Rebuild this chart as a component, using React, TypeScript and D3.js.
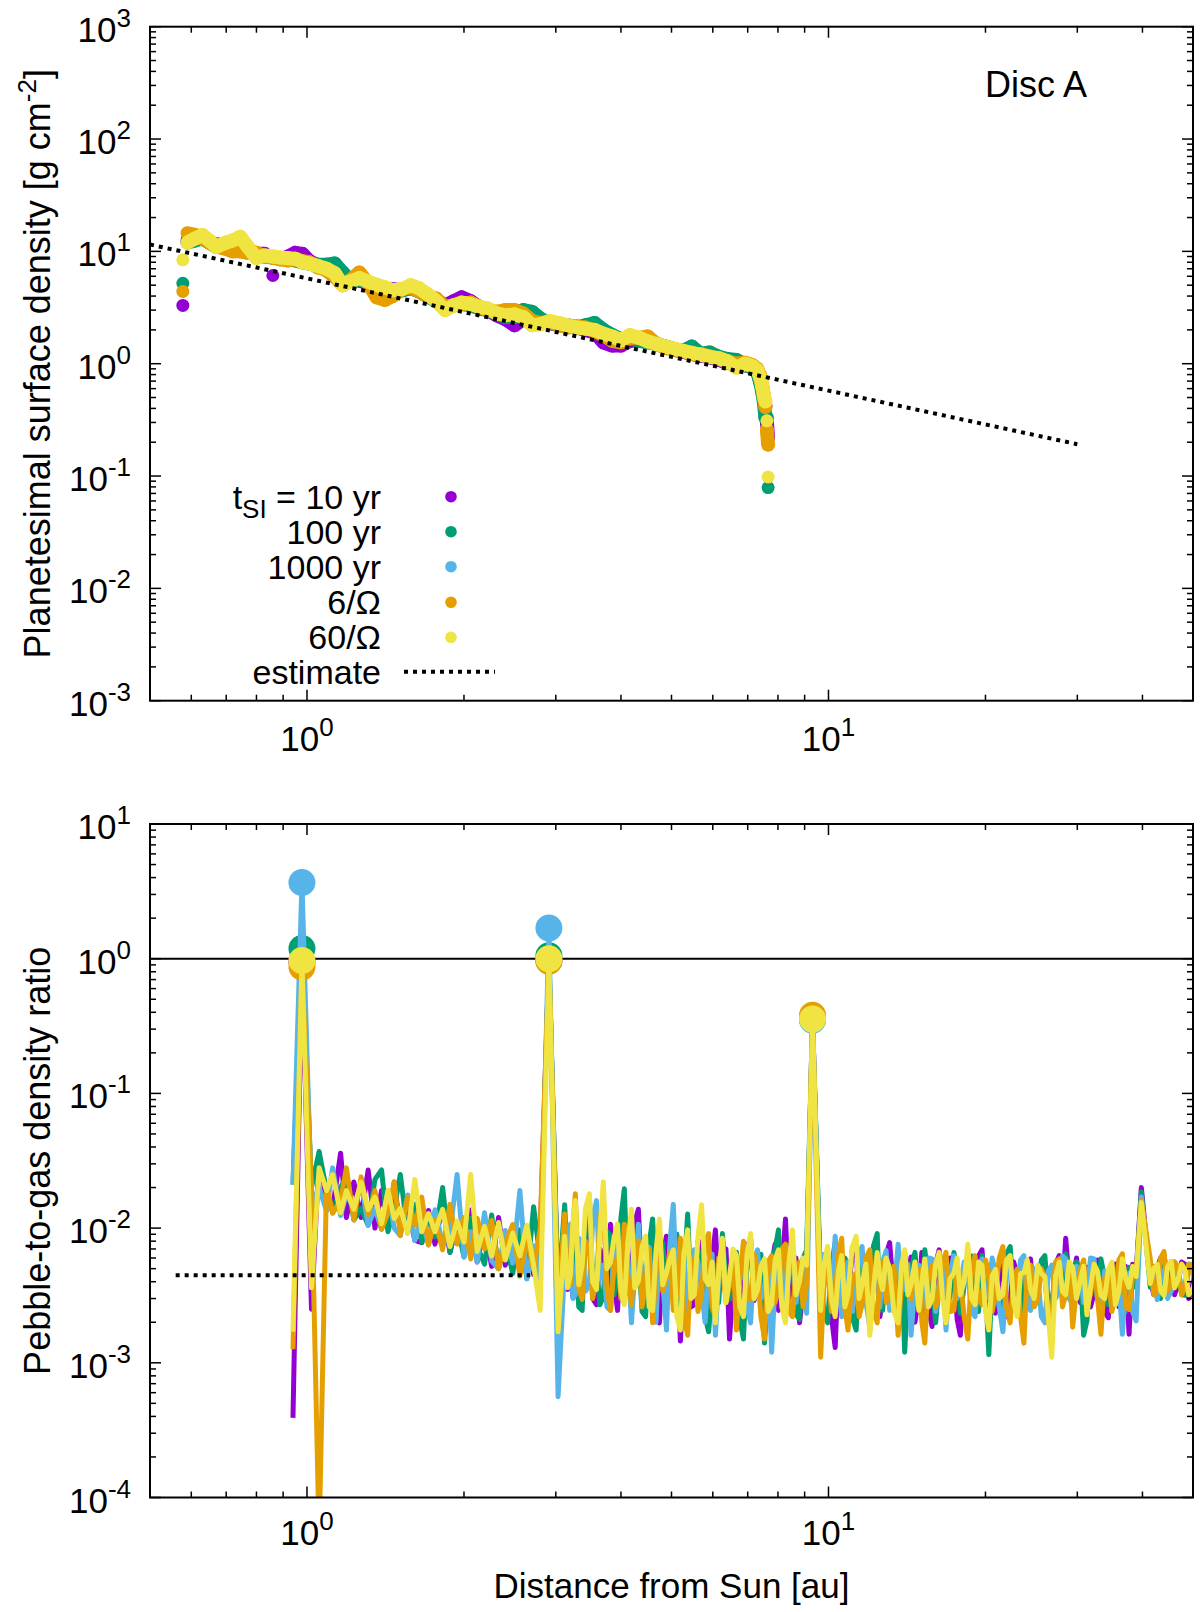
import React from "react";
import * as d3 from "d3";

// ---------- top panel: planetesimal surface density (Disc A) ----------
const sigmaRadius = [
  0.578, 0.59, 0.61, 0.63, 0.65, 0.67, 0.7, 0.72, 0.745, 0.77,
  0.8, 0.83, 0.86, 0.89, 0.92, 0.95, 0.98, 1.01, 1.05, 1.09,
  1.13, 1.17, 1.21, 1.26, 1.31, 1.36, 1.41, 1.46, 1.52, 1.58,
  1.64, 1.7, 1.77, 1.84, 1.91, 1.98, 2.06, 2.14, 2.22, 2.31,
  2.4, 2.5, 2.6, 2.7, 2.81, 2.92, 3.04, 3.16, 3.29, 3.42,
  3.56, 3.7, 3.85, 4.0, 4.16, 4.33, 4.5, 4.68, 4.87, 5.06,
  5.26, 5.47, 5.69, 5.92, 6.16, 6.4, 6.66, 6.92, 7.15, 7.3,
  7.4, 7.47, 7.52, 7.57, 7.62, 7.66,
];
const sigma10yr = [
  3.3, 12.5, 13.5, 13, 12, 11.5, 11.5, 12, 12.5, 10.5,
  9.5, 9.5, 6.1, 8.5, 9.0, 9.7, 9.5, 8.2, 7.5, 6.8,
  6.0, 5.2, 5.6, 5.5, 5.2, 4.9, 4.6, 4.6, 4.5, 4.8,
  4.5, 4.0, 3.7, 3.3, 3.6, 3.9, 3.6, 3.2, 3.0, 2.7,
  2.5, 2.2, 2.5, 2.4, 2.3, 2.3, 2.2, 2.2, 2.1, 2.0,
  1.9, 1.55, 1.45, 1.45, 1.6, 1.62, 1.6, 1.5, 1.4, 1.33,
  1.28, 1.22, 1.18, 1.14, 1.08, 1.02, 0.98, 0.97, 0.93, 0.85,
  0.7, 0.6, 0.5, 0.42, 0.3, 0.22,
];
const sigma100yr = [
  5.2, 12, 12.5, 13, 12, 11, 11.5, 12, 12.5, 10.5,
  9, 9, 8.8, 8.6, 8.5, 8.3, 8.0, 7.8, 7.6, 7.6,
  7.8, 6.5, 5.5, 5.6, 5.3, 5.0, 4.7, 4.5, 4.5, 4.7,
  4.4, 4.0, 3.6, 3.2, 3.3, 3.4, 3.3, 3.1, 3.0, 2.8,
  2.6, 2.6, 3.0, 2.9, 2.5, 2.3, 2.25, 2.2, 2.1, 2.2,
  2.3, 2.0, 1.8, 1.65, 1.7, 1.6, 1.55, 1.5, 1.42, 1.35,
  1.3, 1.42, 1.22, 1.26, 1.15, 1.1, 1.08, 0.98, 0.92, 0.85,
  0.68, 0.55, 0.45, 0.33, 0.33, 0.079,
];
const sigma6Omega = [
  4.4, 14.5, 14, 13, 12, 11, 10.5, 10, 10, 9.7,
  9.7, 9.0, 8.8, 8.5, 8.3, 8.5, 8.2, 8.0, 7.2, 6.8,
  6.0, 5.0, 5.5, 6.5, 5.2, 3.9, 3.7, 4.0, 4.6, 4.8,
  4.4, 4.0, 3.8, 3.2, 3.3, 3.4, 3.5, 3.2, 3.0, 2.9,
  3.0, 3.0, 2.8, 2.4, 2.3, 2.35, 2.2, 2.1, 2.15, 2.1,
  1.95, 1.8, 1.6, 1.55, 1.7, 1.7, 1.75, 1.5, 1.38, 1.34,
  1.3, 1.22, 1.22, 1.16, 1.1, 1.05, 1.0, 1.02, 0.97, 0.9,
  0.78, 0.62, 0.5, 0.41, 0.26, 0.19,
];
const sigma60Omega = [
  8.4, 12, 13, 14, 12.5, 11, 12, 12.5, 13.5, 11,
  8.7, 9.2, 9.0, 8.8, 8.7, 8.6, 8.0, 7.8, 7.4, 7.0,
  6.4, 5.0, 5.4, 5.8, 5.4, 5.0, 4.8, 4.5, 4.6, 5.0,
  4.7, 4.2, 3.6, 3.0, 3.3, 3.5, 3.4, 3.2, 3.1, 2.8,
  2.7, 2.75, 2.6, 2.2, 2.25, 2.4, 2.3, 2.2, 2.1, 2.05,
  2.0, 1.85, 1.75, 1.62, 1.8, 1.7, 1.58, 1.5, 1.42, 1.36,
  1.3, 1.25, 1.2, 1.15, 1.12, 1.05, 0.92, 1.0, 0.95, 0.88,
  0.75, 0.62, 0.52, 0.46, 0.31, 0.098,
];
const sigmaEstimateRadius = [0.5, 30];
const sigmaEstimate = [11.5, 0.192];

// ---------- bottom panel: pebble-to-gas density ratio (units of 1e-3) ----------
const ratioRadius = [
  0.94, 0.978, 1.02, 1.055, 1.09, 1.12, 1.16, 1.19, 1.23, 1.27,
  1.31, 1.35, 1.39, 1.43, 1.47, 1.51, 1.56, 1.61, 1.66, 1.71,
  1.76, 1.82, 1.88, 1.94, 2.0, 2.06, 2.12, 2.19, 2.26, 2.33,
  2.4, 2.48, 2.56, 2.64, 2.72, 2.8, 2.91,
  3.03,
  3.12, 3.16, 3.2, 3.235, 3.27, 3.32, 3.37, 3.42, 3.48, 3.53,
  3.59, 3.645, 3.7, 3.76, 3.82, 3.88, 3.94, 4.0, 4.06, 4.12,
  4.19, 4.25, 4.32, 4.39, 4.46, 4.53, 4.6, 4.67, 4.74, 4.81,
  4.89, 4.96, 5.04, 5.12, 5.2, 5.28, 5.37, 5.45, 5.53, 5.62,
  5.71, 5.8, 5.89, 5.98, 6.07, 6.16, 6.26, 6.36, 6.46, 6.56,
  6.66, 6.76, 6.87, 6.98, 7.09, 7.2, 7.31, 7.42, 7.54, 7.66,
  7.78, 7.9, 8.02, 8.14, 8.27, 8.4, 8.53, 8.66, 8.8, 8.94, 9.08,
  9.32,
  9.66, 9.81, 9.96, 10.13, 10.3, 10.45, 10.6, 10.75,
  10.9, 11.1, 11.3, 11.45, 11.6, 11.8, 12.0, 12.2, 12.4, 12.55,
  12.7, 12.9, 13.1, 13.35, 13.6, 13.8, 14.0, 14.2, 14.4, 14.65,
  14.9, 15.1, 15.3, 15.55, 15.8, 16.05, 16.3, 16.55, 16.8, 17.1,
  17.4, 17.65, 17.9, 18.2, 18.5, 18.8, 19.1, 19.4, 19.7, 20.0,
  20.3, 20.6, 20.9, 21.25, 21.6, 21.95, 22.3, 22.65, 23.0, 23.35,
  23.7, 24.05, 24.4, 24.8, 25.2, 25.6, 26.0, 26.4, 26.8, 27.25,
  27.7, 28.1, 28.5, 28.95, 29.4, 29.9, 30.4, 30.85, 31.3, 31.8,
  32.3, 32.8, 33.3, 33.85, 34.4, 34.95, 35.5, 36.05, 36.6, 37.15,
  37.7, 38.3, 38.9,
  39.8,
  41.4, 42.05, 42.7, 43.35, 44.0, 44.7, 45.4, 46.1, 46.8, 47.55, 48.3, 49.05, 49.8, 50.6, 51.4,
];
const ratio10yr = [
  0.39, 950, 2.5,
  34, 16, 14, 36, 12, 22, 12, 27, 10, 19, 9.9, 22, 9.7, 15, 8.1, 7.8, 13.5,
  7.6, 15, 6.6, 11, 6.7, 13.6, 5.6, 10.3, 5.2, 12, 5.3, 9.7, 5.3, 10, 4.5, 8.6,
  970,
  3.0,
  7.8, 3.5, 9.5, 3.1, 12.7, 4.5, 3.8, 8.5, 9.7, 3.0,
  2.7, 7.0, 6.1, 2.8, 10.7, 4.0, 2.45, 7.5, 6.9, 3.3,
  4.5, 11, 13.8, 3.6, 2.96, 6.8, 5.3, 2.4, 1.98, 6.0,
  8.7, 3.2, 3.8, 7.4, 1.45, 4.6, 6.1, 2.6, 2.7, 8.0,
  7.8, 3.0, 1.75, 5.6, 9.7, 3.4, 4.05, 7.0, 1.5, 3.6,
  6.6, 2.5, 3.2, 7.2, 8.4, 2.9, 3.8, 5.8, 1.6, 4.0,
  5.3, 7.6, 2.45, 4.8, 11.7, 3.0, 4.35, 6.0, 1.98, 3.4, 5.6,
  360,
  3.1, 6.0, 6.25, 2.2, 1.3, 5.4, 4.95, 2.4,
  2.7, 6.8, 7.3, 2.6, 3.5, 5.8, 1.75, 4.0, 5.3, 2.2,
  2.96, 6.4, 7.8, 3.2, 3.8, 5.2, 2.2, 4.4, 6.1, 2.0,
  3.2, 6.6, 4.95, 2.5, 1.86, 5.4, 6.9, 3.0, 3.65, 6.0,
  4.65, 2.1, 1.6, 4.8, 5.6, 2.9, 3.1, 6.2, 6.9, 2.6,
  3.9, 5.6, 2.33, 4.2, 5.3, 2.2, 2.85, 5.6, 4.5, 2.4,
  1.98, 5.2, 5.9, 2.8, 3.5, 5.6, 4.65, 2.2, 2.45, 5.4,
  6.25, 3.4, 8.4, 4.0, 4.13, 6.0, 2.8, 3.2, 5.13, 2.6,
  3.29, 5.8, 4.88, 2.4, 2.16, 5.0, 5.39, 2.6, 3.64, 5.2,
  1.63, 5.4, 4.62,
  20,
  4.13, 3.2, 5.13, 6.0, 3.4, 4.4, 5.65, 3.2, 3.88, 5.6, 5.39, 3.0, 3.64, 5.0, 4.88,
];
const ratio100yr = [
  21, 1190, 20,
  37, 19, 13, 20, 24, 11.5, 14, 10.5, 23, 27, 9.4, 14, 25, 9.2, 15, 7.8, 12,
  8.6, 20, 6.6, 10.7, 6.1, 11.8, 7.3, 5.4, 12.5, 5.0, 8.2, 4.6, 9.7, 4.2, 14.4, 5.9,
  1050,
  3.2,
  14.9, 5.0, 3.8, 8.0, 6.9, 2.6, 2.45, 9.0, 17, 4.2,
  5.3, 2.7, 3.1, 9.5, 8.7, 3.2, 4.5, 12, 19.6, 4.0,
  3.5, 8.2, 6.6, 2.4, 2.2, 7.6, 11.7, 3.6, 4.95, 7.8,
  2.7, 3.4, 6.9, 9.0, 2.33, 4.5, 12.7, 3.2, 4.05, 6.8,
  6.25, 2.2, 1.7, 5.0, 5.3, 2.8, 9.1, 4.0, 2.96, 6.2,
  6.6, 2.1, 1.5, 5.8, 7.6, 3.0, 4.05, 6.4, 1.4, 3.8,
  5.3, 7.0, 9.7, 2.8, 3.2, 6.4, 5.6, 2.3, 2.1, 6.0, 6.9,
  355,
  3.8, 2.4, 1.98, 5.2, 7.8, 3.0, 3.5, 6.0,
  5.3, 2.2, 1.75, 5.0, 6.25, 3.2, 4.05, 7.4, 9.1, 2.6,
  2.45, 5.6, 5.3, 2.4, 3.2, 5.8, 1.2, 3.6, 4.95, 6.6,
  2.96, 2.2, 6.9, 4.2, 3.8, 1.98, 4.0, 5.3, 2.6, 3.1,
  6.6, 4.4, 2.33, 3.8, 4.65, 6.2, 3.2, 2.4, 6.25, 3.6,
  1.15, 4.2, 4.35, 2.6, 2.96, 6.4, 7.3, 3.2, 3.8, 5.2,
  2.2, 4.0, 5.3, 2.8, 3.2, 5.8, 6.25, 2.8, 2.6, 4.8,
  4.5, 3.0, 6.45, 4.4, 2.94, 5.6, 4.88, 1.6, 2.05, 5.0,
  4.37, 3.0, 5.91, 4.2, 2.7, 3.4, 4.62, 5.6, 3.29, 2.4,
  5.13, 3.6, 4.4,
  18.5,
  3.64, 5.2, 4.62, 3.0, 6.18, 4.4, 3.4, 5.0, 4.88, 3.2, 3.17, 5.4, 5.13, 3.6, 4.37,
];
const ratio1000yr = [
  21, 3680, 15,
  20, 13.4, 28, 12.4, 18, 13.8, 22, 10.5, 14, 9.8, 19, 10, 8.8, 17.6, 8.1, 11.7, 7.5,
  13.7, 7.6, 9.2, 25, 6.1, 9.4, 5.6, 13, 5.7, 5.0, 9.6, 5.5, 19, 4.2, 7.4, 3.9,
  1690,
  0.56,
  5.3, 9.0, 10.7, 3.0, 3.2, 8.4, 7.8, 3.4, 3.8, 11,
  16, 4.2, 5.3, 2.6, 2.45, 7.0, 8.7, 3.2, 4.05, 6.4,
  1.98, 4.6, 10.7, 3.6, 4.65, 7.2, 3.1, 2.0, 7.3, 4.0,
  1.75, 7.4, 15, 3.2, 4.65, 6.0, 2.45, 3.4, 6.9, 5.6,
  3.5, 2.0, 5.3, 6.4, 1.6, 4.4, 8.0, 2.9, 4.05, 6.6,
  2.45, 4.2, 6.25, 2.6, 1.98, 5.8, 6.9, 3.0, 3.5, 5.6,
  1.2, 4.0, 5.3, 6.4, 2.7, 4.6, 7.6, 2.8, 4.35, 5.4, 2.33,
  350,
  2.7, 6.4, 4.95, 2.6, 8.7, 4.0, 2.2, 4.6,
  5.6, 2.4, 3.65, 6.6, 7.3, 2.8, 1.86, 5.0, 4.35, 2.6,
  5.6, 6.8, 2.45, 3.2, 7.6, 4.0, 3.5, 5.4, 1.6, 3.8,
  5.3, 2.6, 3.2, 6.0, 5.9, 2.4, 3.8, 5.0, 1.75, 4.6,
  6.25, 3.0, 3.5, 5.6, 4.65, 2.4, 2.2, 5.0, 5.9, 3.0,
  3.2, 6.0, 4.65, 2.6, 1.7, 4.4, 5.6, 3.2, 3.5, 5.8,
  6.25, 2.8, 2.45, 5.0, 4.35, 2.2, 1.98, 4.8, 5.3, 3.0,
  3.5, 6.2, 5.9, 3.0, 2.7, 5.2, 4.62, 2.8, 3.17, 6.0,
  5.91, 3.0, 2.27, 4.8, 4.37, 2.6, 3.4, 4.0, 1.63, 3.8,
  4.62, 2.4, 2.05,
  17,
  4.13, 5.0, 2.94, 4.2, 4.88, 3.0, 3.4, 5.6, 5.13, 3.4, 3.88, 5.4, 5.39, 3.6, 4.13,
];
const ratio6Omega = [
  1.26, 870, 20,
  0.05, 21, 12.9, 16, 28, 11.5, 24, 12.6, 19, 9.8, 13, 22, 8.8, 17, 10.5, 17, 7.5,
  11.5, 6.9, 15, 7.6, 12, 5.9, 11.8, 7.0, 11.4, 5.0, 7.7, 10.6, 4.4, 8.4, 4.9, 10,
  960,
  2.5,
  12.7, 4.4, 3.8, 10, 18, 3.6, 2.96, 8.0, 6.9, 3.0,
  4.05, 12, 14.9, 3.6, 2.45, 5.2, 6.1, 3.0, 10.7, 4.4,
  2.7, 6.4, 8.0, 2.6, 3.8, 7.0, 1.98, 4.6, 9.5, 3.4,
  4.35, 6.6, 2.45, 3.2, 8.4, 2.2, 1.6, 5.4, 5.9, 2.4,
  3.2, 7.8, 9.1, 2.6, 2.2, 6.0, 5.3, 2.8, 3.8, 6.2,
  1.75, 4.2, 8.0, 3.0, 2.96, 6.4, 4.95, 2.2, 1.5, 5.6,
  6.25, 2.8, 3.5, 7.0, 7.6, 2.4, 2.2, 5.0, 5.6, 2.6, 3.8,
  380,
  1.1, 4.0, 5.3, 2.4, 3.2, 6.4, 8.4, 2.6,
  1.75, 4.2, 4.65, 2.2, 2.7, 6.0, 6.9, 2.4, 1.98, 4.8,
  5.6, 2.8, 3.5, 5.2, 1.6, 3.8, 6.6, 4.2, 2.96, 5.0,
  4.95, 2.0, 1.4, 4.4, 5.3, 2.6, 3.2, 5.6, 6.6, 2.4,
  2.45, 5.0, 4.35, 2.2, 1.5, 4.6, 6.25, 3.0, 2.7, 5.8,
  4.65, 2.4, 3.2, 6.0, 7.3, 2.6, 1.98, 4.2, 4.95, 2.2,
  1.4, 4.8, 5.3, 2.6, 2.96, 5.0, 4.35, 2.0, 2.2, 5.6,
  5.9, 2.6, 3.2, 5.2, 1.84, 3.6, 4.88, 5.8, 2.7, 3.2,
  5.39, 3.0, 1.63, 4.2, 4.62, 2.4, 3.17, 5.8, 6.45, 2.6,
  2.49, 4.4, 4.62,
  16,
  5.91, 3.2, 3.4, 6.0, 6.7, 3.4, 3.88, 5.6, 5.13, 3.2, 3.64, 5.4, 4.88, 3.6, 4.37,
];
const ratio60Omega = [
  1.7, 970, 3.6,
  28, 19, 25, 13, 19, 13.8, 22, 13.7, 17, 10.8, 19, 11.8, 14, 9.2, 23, 9.4, 12.8,
  9.4, 13.8, 7.3, 11.3, 7.9, 25, 6.7, 10.3, 6.2, 11, 5.8, 9.2, 6.2, 10.5, 5.3, 2.45,
  1000,
  1.7,
  8.7, 3.6, 4.5, 11, 16, 3.8, 5.3, 14, 18, 4.0,
  3.5, 9.0, 22, 5.0, 5.6, 8.5, 10.7, 3.4, 2.7, 7.6,
  13.8, 3.6, 4.05, 7.2, 8.7, 2.6, 2.45, 6.8, 11.7, 3.8,
  4.65, 5.8, 6.9, 2.2, 1.75, 6.4, 9.7, 3.0, 3.2, 8.6,
  14.9, 4.2, 3.8, 5.6, 1.98, 4.8, 8.4, 2.8, 4.35, 7.0,
  6.25, 2.6, 2.2, 6.4, 9.1, 3.0, 3.5, 5.2, 5.9, 2.4,
  2.7, 5.8, 6.9, 2.6, 1.98, 5.6, 9.7, 3.2, 4.05, 6.0, 5.3,
  356,
  2.45, 5.4, 7.3, 3.0, 2.2, 4.8, 6.25, 2.6,
  3.2, 7.2, 8.7, 3.0, 3.8, 5.4, 1.6, 3.6, 6.6, 4.2,
  3.5, 6.0, 4.95, 2.4, 1.98, 5.2, 6.9, 3.2, 3.8, 5.6,
  2.45, 4.0, 5.9, 2.6, 2.96, 5.4, 6.6, 3.0, 1.98, 4.2,
  4.65, 6.0, 3.2, 4.0, 7.6, 3.0, 2.7, 5.6, 5.3, 2.4,
  1.75, 4.4, 4.95, 3.0, 3.2, 5.8, 6.25, 2.8, 2.2, 4.6,
  4.65, 5.8, 3.5, 3.0, 5.3, 4.6, 4.35, 2.2, 1.1, 4.4,
  5.6, 3.4, 3.2, 5.6, 5.13, 3.0, 4.13, 5.2, 2.27, 3.6,
  5.39, 4.8, 3.17, 3.0, 4.88, 5.6, 2.7, 3.4, 5.91, 4.2,
  3.64, 5.2, 4.37,
  15.5,
  3.88, 5.0, 5.39, 3.4, 3.17, 5.2, 5.65, 3.6, 4.13, 5.4, 4.88, 3.2, 3.4, 4.2, 2.0,
];
const ratioEstimateRadius = [0.56, 2.68];
const ratioEstimate = [4.46, 4.46];

const seriesColors = ["#9400d3", "#009e73", "#56b4e9", "#e69f00", "#f0e442"];
const legendLabels = ["= 10 yr", "100 yr", "1000 yr", "6/Ω", "60/Ω"];
const topDecades = [-3, -2, -1, 0, 1, 2, 3];
const bottomDecades = [-4, -3, -2, -1, 0, 1];
const xDecades = [0, 1];

// layout
const W = 1200;
const H = 1612;
const L = 150;
const R = 1193;
const top1 = 26.7;
const bot1 = 700.7;
const top2 = 824;
const bot2 = 1497.5;
const FONT = "'Liberation Sans', Arial, Helvetica, sans-serif";
const TICK_FS = 35;
const EXP_FS = 26;

const x = d3.scaleLog().domain([0.5, 50]).range([L, R]);
const y1 = d3.scaleLog().domain([1e-3, 1e3]).range([bot1, top1]);
const y2 = d3.scaleLog().domain([1e-4, 10]).range([bot2, top2]);

const isDecade = (v: number) => Math.abs(Math.log10(v) - Math.round(Math.log10(v))) < 1e-6;

const Pow10 = ({ px, py, exp, anchor }: { px: number; py: number; exp: number; anchor: string }) => (
  <text x={px} y={py} textAnchor={anchor as any} fontSize={TICK_FS}>
    10
    <tspan dy={-15} fontSize={EXP_FS}>{exp}</tspan>
  </text>
);

const Frame = ({ y, top, bottom, decades, xLabelY }: any) => {
  const xt = x.ticks();
  const yt = y.ticks();
  return (
    <g>
      {xt.map((t: number, i: number) => {
        const len = isDecade(t) ? 11 : 6;
        const px = x(t);
        return (
          <g key={"x" + i} stroke="#000" strokeWidth={1.5}>
            <line x1={px} x2={px} y1={bottom} y2={bottom - len} />
            <line x1={px} x2={px} y1={top} y2={top + len} />
          </g>
        );
      })}
      {yt.map((t: number, i: number) => {
        const len = isDecade(t) ? 11 : 6;
        const py = y(t);
        return (
          <g key={"y" + i} stroke="#000" strokeWidth={1.5}>
            <line x1={L} x2={L + len} y1={py} y2={py} />
            <line x1={R} x2={R - len} y1={py} y2={py} />
          </g>
        );
      })}
      <rect x={L} y={top} width={R - L} height={bottom - top} fill="none" stroke="#000" strokeWidth={2} />
      {decades.map((d: number) => (
        <Pow10 key={"yl" + d} px={131} py={y(Math.pow(10, d)) + 15} exp={d} anchor="end" />
      ))}
      {xDecades.map((d) => (
        <Pow10 key={"xl" + d} px={x(Math.pow(10, d))} py={xLabelY} exp={d} anchor="middle" />
      ))}
    </g>
  );
};

const App = () => {
  const topSeries = [
    { v: sigma10yr, c: seriesColors[0] },
    { v: sigma100yr, c: seriesColors[1] },
    { v: sigma6Omega, c: seriesColors[3] },
    { v: sigma60Omega, c: seriesColors[4] },
  ];
  const bottomSeries = [ratio10yr, ratio100yr, ratio1000yr, ratio6Omega, ratio60Omega];

  const ratioLine = d3
    .line<number>()
    .x((_, i) => x(ratioRadius[i]))
    .y((d) => y2(d * 1e-3));

  const legendRows = [496.7, 531.7, 566.7, 602.3, 637.3];

  return (
    <svg
      width={W}
      height={H}
      viewBox={`0 0 ${W} ${H}`}
      style={{ position: "absolute", left: 0, top: 0, background: "#fff" }}
      fontFamily={FONT}
    >
      <rect x={0} y={0} width={W} height={H} fill="#fff" />
      <defs>
        <clipPath id="clipTop">
          <rect x={L} y={top1} width={R - L} height={bot1 - top1} />
        </clipPath>
        <clipPath id="clipBottom">
          <rect x={L} y={top2} width={R - L} height={bot2 - top2} />
        </clipPath>
      </defs>

      {/* ---------- top panel ---------- */}
      <g clipPath="url(#clipTop)">
        {topSeries.map((s, k) => (
          <g key={"ts" + k} fill={s.c} stroke={s.c}>
            {s.v.slice(1).map((v, i) => {
              const a = y1(s.v[i]);
              const b = y1(v);
              if (Math.abs(a - b) > 16) return null;
              return (
                <line
                  key={i}
                  x1={x(sigmaRadius[i])}
                  y1={a}
                  x2={x(sigmaRadius[i + 1])}
                  y2={b}
                  strokeWidth={14}
                  strokeLinecap="round"
                />
              );
            })}
            {s.v.map((v, i) => (
              <circle key={"c" + i} cx={x(sigmaRadius[i])} cy={y1(v)} r={6.5} stroke="none" />
            ))}
          </g>
        ))}
        <line
          x1={x(sigmaEstimateRadius[0])}
          y1={y1(sigmaEstimate[0])}
          x2={x(sigmaEstimateRadius[1])}
          y2={y1(sigmaEstimate[1])}
          stroke="#000"
          strokeWidth={4}
          strokeDasharray="4 5"
        />
      </g>
      <Frame y={y1} top={top1} bottom={bot1} decades={topDecades} xLabelY={751} />
      <text x={1087} y={97} textAnchor="end" fontSize={36}>
        Disc A
      </text>

      {/* legend */}
      <g fontSize={34}>
        <text x={381} y={legendRows[0] + 12} textAnchor="end">
          t<tspan dy={9} fontSize={26}>SI</tspan>
          <tspan dy={-9}> {legendLabels[0]}</tspan>
        </text>
        {legendLabels.slice(1).map((lab, i) => (
          <text key={lab} x={381} y={legendRows[i + 1] + 12} textAnchor="end">
            {lab}
          </text>
        ))}
        {seriesColors.map((c, i) => (
          <circle key={c} cx={451} cy={legendRows[i]} r={5.8} fill={c} />
        ))}
        <text x={381} y={671.7 + 12} textAnchor="end">
          estimate
        </text>
        <line x1={404} x2={495} y1={671.7} y2={671.7} stroke="#000" strokeWidth={4} strokeDasharray="4 5" />
      </g>

      {/* ---------- bottom panel ---------- */}
      <line x1={L} x2={R} y1={y2(1)} y2={y2(1)} stroke="#000" strokeWidth={2} />
      <g clipPath="url(#clipBottom)">
        {bottomSeries.map((vals, k) => {
          const n = Math.min(vals.length, ratioRadius.length);
          const v = vals.slice(0, n);
          return (
            <g key={"bs" + k}>
              <path
                d={ratioLine(v) || ""}
                fill="none"
                stroke={seriesColors[k]}
                strokeWidth={5}
                strokeLinejoin="round"
              />
              {v.map((d, i) =>
                d * 1e-3 > 0.1 ? (
                  <circle key={i} cx={x(ratioRadius[i])} cy={y2(d * 1e-3)} r={13.5} fill={seriesColors[k]} />
                ) : null
              )}
            </g>
          );
        })}
        <line
          x1={x(ratioEstimateRadius[0])}
          y1={y2(ratioEstimate[0] * 1e-3)}
          x2={x(ratioEstimateRadius[1])}
          y2={y2(ratioEstimate[1] * 1e-3)}
          stroke="#000"
          strokeWidth={4}
          strokeDasharray="4 5"
        />
      </g>
      <Frame y={y2} top={top2} bottom={bot2} decades={bottomDecades} xLabelY={1545} />

      {/* axis titles */}
      <text transform={`translate(50,${(top1 + bot1) / 2}) rotate(-90)`} textAnchor="middle" fontSize={36}>
        Planetesimal surface density [g cm
        <tspan dy={-14} fontSize={26}>-2</tspan>
        <tspan dy={14}>]</tspan>
      </text>
      <text transform={`translate(50,${(top2 + bot2) / 2}) rotate(-90)`} textAnchor="middle" fontSize={36}>
        Pebble-to-gas density ratio
      </text>
      <text x={(L + R) / 2} y={1598} textAnchor="middle" fontSize={35}>
        Distance from Sun [au]
      </text>
    </svg>
  );
};

export default App;
